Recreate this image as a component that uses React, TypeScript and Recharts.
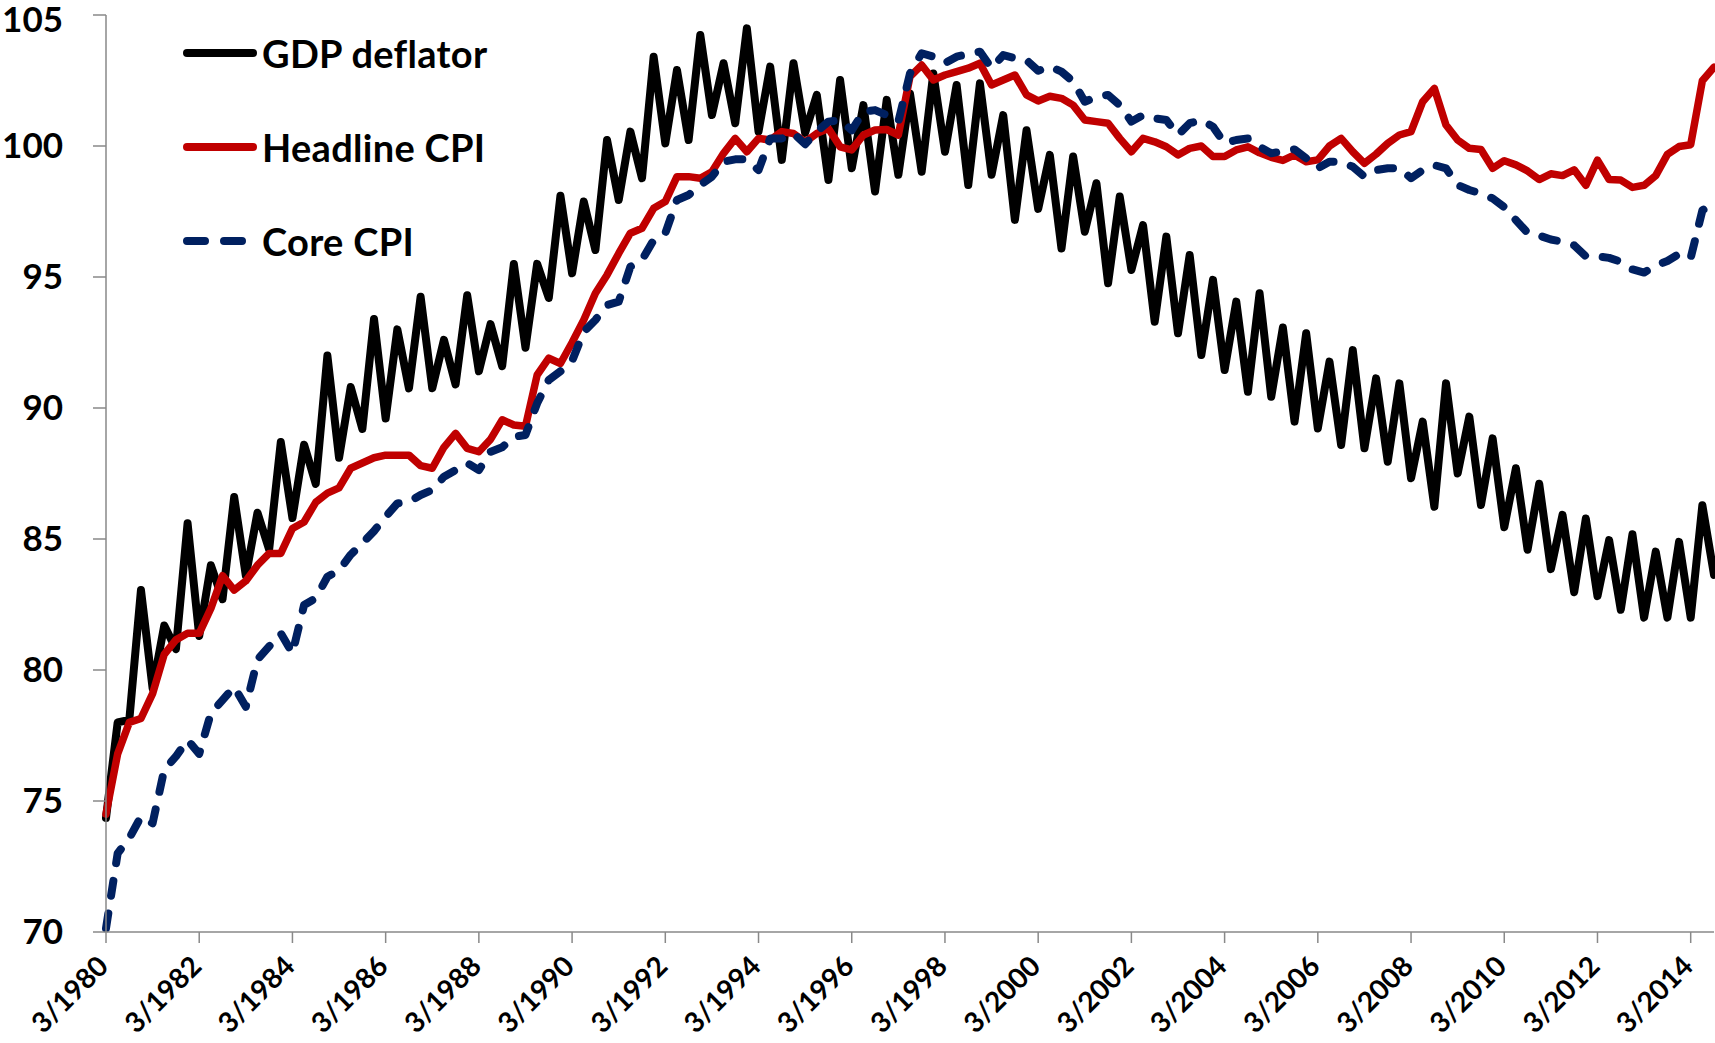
import React from "react";
import { LineChart, Line, XAxis, YAxis, Legend } from "recharts";

// quarterly index levels, 3/1980 .. 9/2014
const gdpDeflator = [
  74.35, 78.0, 78.1, 83.05, 79.3, 81.7, 80.8, 85.6, 81.3, 84.0,
  82.7, 86.6, 83.6, 86.0, 84.6, 88.7, 85.8, 88.6, 87.1, 92.0,
  88.1, 90.8, 89.2, 93.4, 89.6, 93.0, 90.75, 94.25, 90.75, 92.6,
  90.9, 94.3, 91.4, 93.2, 91.6, 95.5, 92.3, 95.5, 94.2, 98.1,
  95.14, 97.88, 96.03, 100.23, 97.94, 100.55, 98.77, 103.41, 100.1, 102.9,
  100.23, 104.24, 101.18, 103.16, 100.87, 104.49, 100.55, 103.03, 99.47, 103.16,
  100.5, 101.95, 98.7, 102.52, 99.15, 101.56, 98.26, 101.76, 98.9, 102.0,
  99.02, 102.77, 99.78, 102.33, 98.51, 102.39, 98.9, 101.18, 97.18, 100.6,
  97.6, 99.66, 96.09, 99.6, 96.73, 98.58, 94.76, 98.07, 95.27, 96.98,
  93.29, 96.54, 92.85, 95.84, 92.02, 94.89, 91.45, 94.06, 90.62, 94.38,
  90.43, 93.07, 89.48, 92.85, 89.22, 91.77, 88.59, 92.21, 88.46, 91.13,
  87.95, 90.94, 87.32, 89.48, 86.23, 90.94, 87.5, 89.67, 86.3, 88.84,
  85.45, 87.7, 84.59, 87.11, 83.85, 85.92, 82.97, 85.78, 82.82, 84.96,
  82.3, 85.18, 82.0, 84.52, 82.0, 84.89, 82.0, 86.29, 83.63,
];

const headlineCpi = [
  74.5, 76.8, 78.0, 78.15, 79.1, 80.6, 81.15, 81.4, 81.4, 82.35,
  83.6, 83.05, 83.4, 84.0, 84.45, 84.45, 85.4, 85.65, 86.4, 86.75,
  86.95, 87.7, 87.9, 88.1, 88.2, 88.2, 88.2, 87.8, 87.7, 88.5,
  89.03, 88.46, 88.33, 88.8, 89.55, 89.35, 89.3, 91.26, 91.9, 91.7,
  92.5, 93.36, 94.38, 95.08, 95.9, 96.67, 96.86, 97.62, 97.88, 98.83,
  98.83, 98.77, 99.02, 99.72, 100.29, 99.78, 100.29, 100.23, 100.55, 100.48,
  100.15, 100.48, 100.67, 99.97, 99.85, 100.42, 100.61, 100.63, 100.42, 102.65,
  103.09, 102.52, 102.71, 102.84, 102.97, 103.16, 102.33, 102.52, 102.71, 101.95,
  101.72, 101.9, 101.82, 101.56, 100.99, 100.93, 100.87, 100.29, 99.78, 100.29,
  100.16, 99.97, 99.66, 99.91, 100.0, 99.6, 99.6, 99.85, 99.97, 99.74,
  99.57, 99.45, 99.66, 99.4, 99.47, 100.0, 100.29, 99.78, 99.34, 99.69,
  100.1, 100.42, 100.55, 101.69, 102.2, 100.8, 100.23, 99.91, 99.87, 99.15,
  99.44, 99.28, 99.05, 98.72, 98.94, 98.87, 99.09, 98.5, 99.46, 98.72,
  98.7, 98.42, 98.5, 98.87, 99.68, 99.98, 100.05, 102.49, 103.01,
];

const coreCpi = [
  70.14, 73.0, 73.58, 74.4, 74.15, 76.2, 76.7, 77.33, 76.8, 78.35,
  78.85, 79.36, 78.6, 80.4, 80.9, 81.4, 80.64, 82.48, 82.74, 83.56,
  83.8, 84.4, 84.84, 85.3, 85.85, 86.36, 86.42, 86.68, 86.87, 87.38,
  87.63, 87.9, 87.63, 88.33, 88.5, 88.9, 88.97, 90.18, 91.07, 91.4,
  91.8, 92.91, 93.36, 93.93, 94.06, 95.39, 95.65, 96.41, 96.67, 97.94,
  98.13, 98.51, 98.83, 99.4, 99.49, 99.49, 99.08, 100.29, 100.29, 100.48,
  100.07, 100.55, 100.93, 100.99, 100.6, 101.31, 101.37, 101.18, 100.93, 102.77,
  103.54, 103.41, 103.16, 103.41, 103.51, 103.6, 102.97, 103.47, 103.35, 103.28,
  102.87, 103.03, 102.84, 102.46, 101.69, 101.88, 101.95, 101.56, 100.93, 101.18,
  101.06, 100.99, 100.42, 100.87, 100.99, 100.74, 100.1, 100.23, 100.29, 99.97,
  99.72, 99.8, 99.87, 99.53, 99.15, 99.4, 99.4, 99.21, 98.83, 99.08,
  99.15, 99.15, 98.77, 99.08, 99.27, 99.15, 98.51, 98.32, 98.19, 98.0,
  97.67, 97.17, 96.69, 96.58, 96.43, 96.35, 96.21, 95.79, 95.79, 95.73,
  95.58, 95.29, 95.17, 95.44, 95.61, 95.88, 95.73, 97.54, 97.83,
];

const quarterMonths = [3, 6, 9, 12];
const firstYear = 1980;
const quarters = gdpDeflator.map(
  (_, i) => `${quarterMonths[i % 4]}/${firstYear + Math.floor(i / 4)}`
);

const xTickLabels = [
  "3/1980", "3/1982", "3/1984", "3/1986", "3/1988", "3/1990",
  "3/1992", "3/1994", "3/1996", "3/1998", "3/2000", "3/2002",
  "3/2004", "3/2006", "3/2008", "3/2010", "3/2012", "3/2014",
];
const yTicks = [70, 75, 80, 85, 90, 95, 100, 105];
const seriesOrder = ["GDP deflator", "Headline CPI", "Core CPI"];

const data = quarters.map((q, i) => ({
  quarter: q,
  gdp: gdpDeflator[i],
  headline: headlineCpi[i],
  core: coreCpi[i],
}));

const FONT = "Lato, Calibri, 'Open Sans', sans-serif";
const AXIS_GRAY = "#898989";

function XTick(props: any) {
  const { x, y, payload } = props;
  if (!xTickLabels.includes(payload.value)) return null;
  const bx = x + 4;
  const by = y + 25;
  return (
    <text
      x={bx}
      y={by}
      transform={`rotate(-45, ${bx}, ${by})`}
      textAnchor="end"
      fontSize={28}
      fontWeight={700}
      fontFamily={FONT}
      fill="#000"
    >
      {payload.value}
    </text>
  );
}

function LegendBox(props: any) {
  const { payload } = props;
  const items = [...payload].sort(
    (a: any, b: any) => seriesOrder.indexOf(a.value) - seriesOrder.indexOf(b.value)
  );
  return (
    <div style={{ display: "flex", flexDirection: "column" }}>
      {items.map((entry: any) => {
        const dashed = entry.payload && entry.payload.strokeDasharray;
        return (
          <div
            key={entry.value}
            style={{ display: "flex", alignItems: "center", height: 94 }}
          >
            <svg width={80} height={14} style={{ display: "block" }}>
              <line
                x1={7}
                x2={dashed ? 64 : 73}
                y1={7}
                y2={7}
                stroke={entry.color}
                strokeWidth={8}
                strokeLinecap="round"
                strokeDasharray={dashed ? "18 19" : undefined}
              />
            </svg>
            <span
              style={{
                marginLeft: 2,
                fontFamily: FONT,
                fontWeight: 700,
                fontSize: 38,
                letterSpacing: 0.3,
                color: "#000",
                lineHeight: 1,
                whiteSpace: "nowrap",
              }}
            >
              {entry.value}
            </span>
          </div>
        );
      })}
    </div>
  );
}

export default function App() {
  return (
    <div style={{ position: "absolute", left: 0, top: 0, background: "#fff" }}>
      <LineChart
        width={1715}
        height={1043}
        data={data}
        margin={{ top: 15, right: 1, bottom: 0, left: 0 }}
      >
        <XAxis
          dataKey="quarter"
          interval={7}
          height={111}
          padding={{ left: 0, right: 0 }}
          tickSize={11}
          tickMargin={0}
          tick={<XTick />}
          axisLine={{ stroke: AXIS_GRAY, strokeWidth: 1.5 }}
          tickLine={{ stroke: AXIS_GRAY, strokeWidth: 1.5 }}
        />
        <YAxis
          type="number"
          domain={[70, 105]}
          ticks={yTicks}
          width={106}
          tickSize={13}
          tickMargin={30}
          tick={{ fontSize: 35, fontWeight: 700, fill: "#000", fontFamily: FONT }}
          axisLine={{ stroke: AXIS_GRAY, strokeWidth: 1.5 }}
          tickLine={{ stroke: AXIS_GRAY, strokeWidth: 1.5 }}
        />
        <Legend
          layout="vertical"
          align="center"
          verticalAlign="middle"
          itemSorter={(item: any) => seriesOrder.indexOf(item.value)}
          content={<LegendBox />}
          wrapperStyle={{ left: 180, top: 6, width: 420, height: 282 }}
        />
        <Line
          dataKey="gdp"
          name="GDP deflator"
          stroke="#000000"
          strokeWidth={8}
          strokeLinejoin="round"
          strokeLinecap="round"
          dot={false}
          activeDot={false}
          isAnimationActive={false}
        />
        <Line
          dataKey="headline"
          name="Headline CPI"
          stroke="#C00000"
          strokeWidth={7.5}
          strokeLinejoin="round"
          strokeLinecap="round"
          dot={false}
          activeDot={false}
          isAnimationActive={false}
        />
        <Line
          dataKey="core"
          name="Core CPI"
          stroke="#002060"
          strokeWidth={8}
          strokeDasharray="15 18"
          strokeLinejoin="round"
          strokeLinecap="round"
          dot={false}
          activeDot={false}
          isAnimationActive={false}
        />
      </LineChart>
    </div>
  );
}
